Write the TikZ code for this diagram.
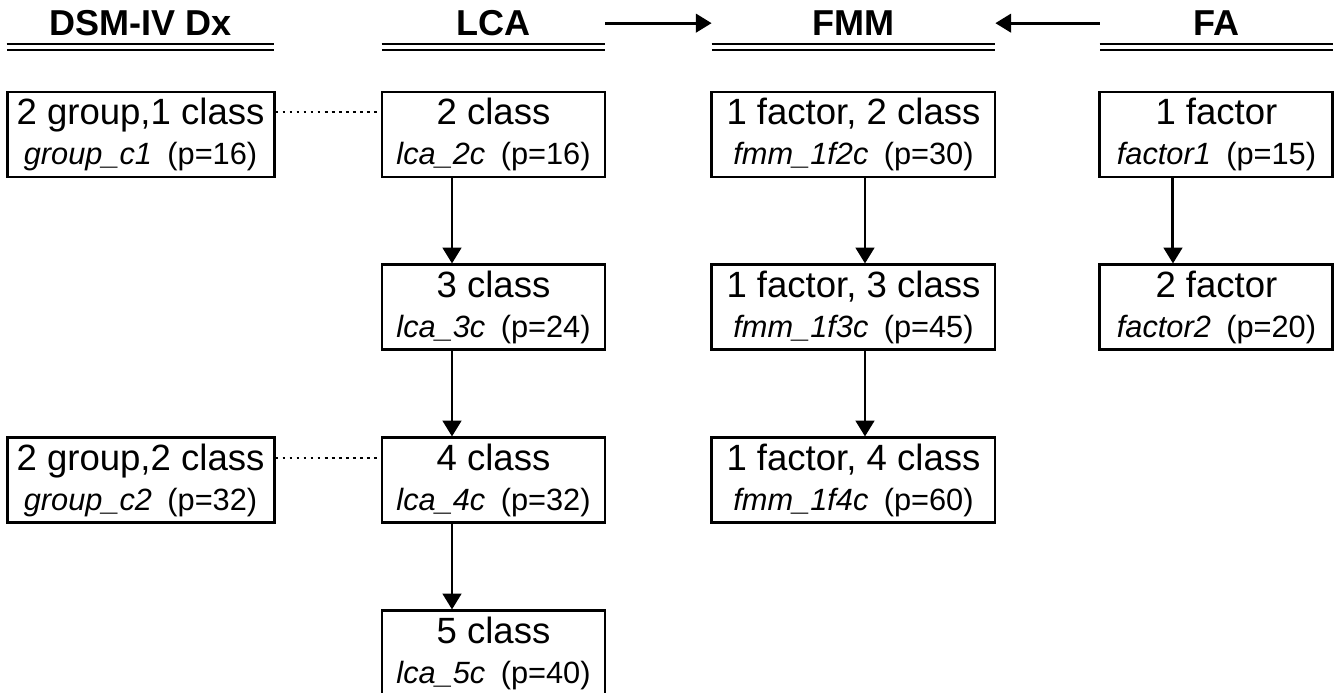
\documentclass[tikz,border=0pt]{standalone}
\usepackage{fontspec}
\setmainfont{Liberation Sans}
\usepackage{tikz}
\usetikzlibrary{
  arrows.meta,
  positioning
}
\definecolor{linecolor}{RGB}{0, 0, 0}
\definecolor{labelcolor}{RGB}{0, 0, 0}
\newcommand{\modelid}[2]{{\fontsize{17.5}{17.5}\selectfont\textit{#1}\hspace{0.5em}(p=#2)}}
\tikzset{
modelbox/.style={
  draw=linecolor,
  line width=1.7pt,
  minimum height=17mm,
  inner sep=0pt,
  align=center,
  text=labelcolor,
  font=\fontsize{20.8}{22.8}\selectfont
},
dsmbox/.style={
  modelbox,
  minimum width=53.4mm
},
lcabox/.style={
  modelbox,
  minimum width=44.6mm
},
fmmbox/.style={
  modelbox,
  minimum width=56.6mm
},
fabox/.style={
  modelbox,
  minimum width=46.6mm
},
headlabel/.style={
  font=\fontsize{20.5}{22}\selectfont\bfseries,
  text=labelcolor,
  minimum height=9.4mm,
  inner sep=0pt
},
headrule/.style={
  draw=linecolor,
  double,
  double distance=2.3pt,
  line width=1.4pt
},
flowarrow/.style={
  -{Triangle[length=9pt,width=10.5pt]},
  line width=1.7pt,
  draw=linecolor
},
dotlink/.style={
  draw=linecolor,
  line width=1.6pt,
  dash pattern=on 1.6pt off 2.4pt
}
}

\begin{document}
\begin{tikzpicture}
  \useasboundingbox (0,0) rectangle (26.72,-13.86);

  % LCA column
  \node[lcabox] (lca1) at (9.87,-2.69) {2 class\\\modelid{lca\_2c}{16}};
  \node[lcabox, below=17mm of lca1] (lca2) {3 class\\\modelid{lca\_3c}{24}};
  \node[lcabox, below=17mm of lca2] (lca3) {4 class\\\modelid{lca\_4c}{32}};
  \node[lcabox, below=17mm of lca3] (lca4) {5 class\\\modelid{lca\_5c}{40}};

  % DSM-IV groups
  \node[dsmbox, left=21mm of lca1] (dsm1) {2 group,1 class\\\modelid{group\_c1}{16}};
  \node[dsmbox, left=21mm of lca3] (dsm2) {2 group,2 class\\\modelid{group\_c2}{32}};

  % FMM column
  \node[fmmbox, right=20.8mm of lca1] (fmm1) {1 factor, 2 class\\\modelid{fmm\_1f2c}{30}};
  \node[fmmbox, below=17mm of fmm1] (fmm2) {1 factor, 3 class\\\modelid{fmm\_1f3c}{45}};
  \node[fmmbox, below=17mm of fmm2] (fmm3) {1 factor, 4 class\\\modelid{fmm\_1f4c}{60}};

  % FA column
  \node[fabox, right=20.4mm of fmm1] (fa1) {1 factor\\\modelid{factor1}{15}};
  \node[fabox, below=17mm of fa1] (fa2) {2 factor\\\modelid{factor2}{20}};

  % headers
  \node[headlabel, minimum width=53.4mm, above=8.7mm of dsm1] (dsmhead) {DSM-IV Dx};
  \node[headlabel, minimum width=44.6mm, above=8.7mm of lca1] (lcahead) {LCA};
  \node[headlabel, minimum width=56.6mm, above=8.7mm of fmm1] (fmmhead) {FMM};
  \node[headlabel, minimum width=46.6mm, above=8.7mm of fa1] (fahead) {FA};
  \foreach \h in {dsmhead,lcahead,fmmhead,fahead}
    \draw[headrule] (\h.south west) -- (\h.south east);

  \draw[flowarrow] (lcahead.east) -- (fmmhead.west);
  \draw[flowarrow] (fahead.west) -- (fmmhead.east);

  % steps down each column
  \foreach \a/\b in {lca1/lca2,lca2/lca3,lca3/lca4}
    \draw[flowarrow] ([xshift=-8.3mm]\a.south) -- ([xshift=-8.3mm]\b.north);
  \foreach \a/\b in {fmm1/fmm2,fmm2/fmm3}
    \draw[flowarrow] ([xshift=2.3mm]\a.south) -- ([xshift=2.3mm]\b.north);
  \draw[flowarrow] ([xshift=-8.7mm]fa1.south) -- ([xshift=-8.7mm]fa2.north);

  \draw[dotlink] ([yshift=4.5mm]dsm1.east) -- ([yshift=4.5mm]lca1.west);
  \draw[dotlink] ([yshift=4.5mm]dsm2.east) -- ([yshift=4.5mm]lca3.west);
\end{tikzpicture}
\end{document}
